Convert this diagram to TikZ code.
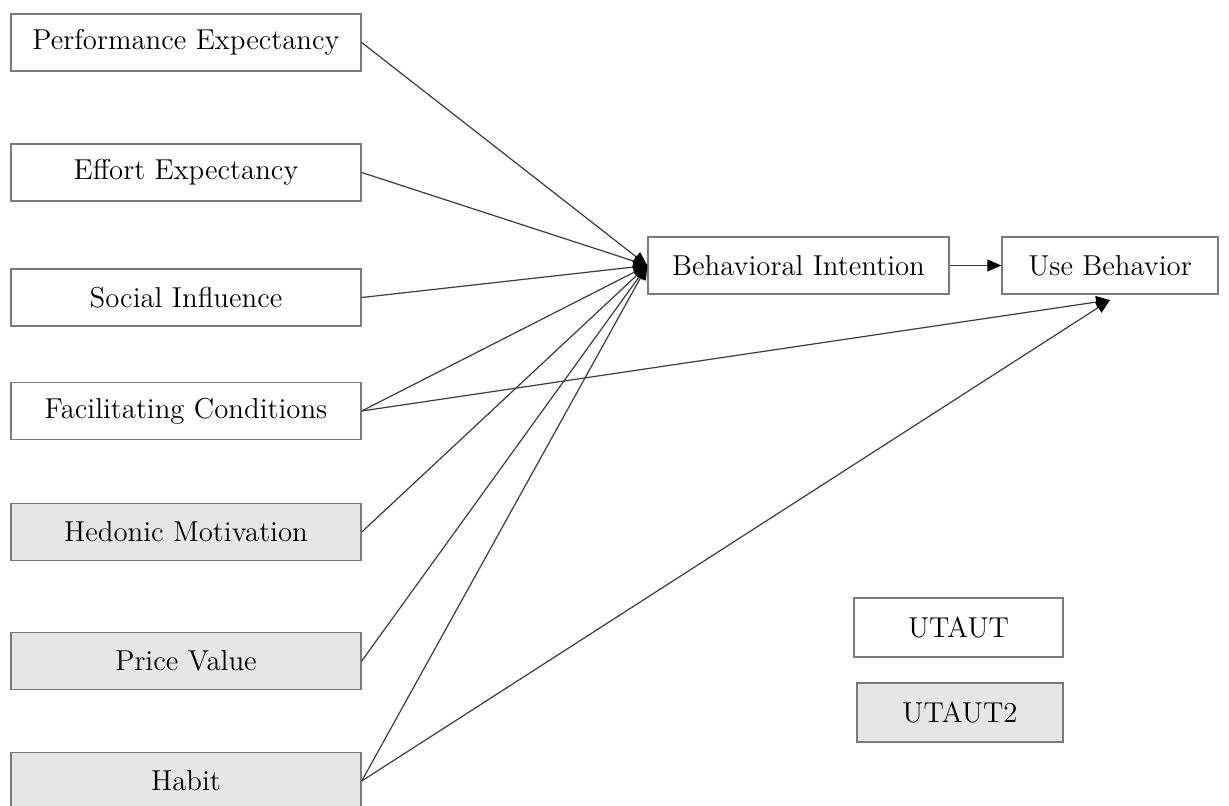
\documentclass[tikz,border=0pt]{standalone}
\usetikzlibrary{arrows.meta}
\definecolor{boxgray}{HTML}{E6E6E6}
\definecolor{edgegray}{HTML}{7A7A7A}
\definecolor{linegray}{HTML}{3C3C3C}
\begin{document}
\begin{tikzpicture}[x=0.5pt,y=-0.5pt,
  box/.style={draw=edgegray, line width=0.7pt, inner sep=0pt,
    minimum height=28.5pt, font=\fontsize{14.4}{17}\selectfont},
  leftbox/.style={box, minimum width=175pt},
  grayfill/.style={fill=boxgray},
  conn/.style={draw=linegray, line width=0.6pt,
    -{Triangle[length=7pt,width=6pt,color=black]}}]
\useasboundingbox (0,0) rectangle (1229,805);
\clip (0,0) rectangle (1229,805);
\fill[white] (0,0) rectangle (1229,805);

\node[leftbox] (PE) at (186,42.5) {Performance Expectancy};
\node[leftbox] (EE) at (186,172.5) {Effort Expectancy};
\node[leftbox] (SI) at (186,297.5) {Social Influence};
\node[leftbox] (FC) at (186,411) {Facilitating Conditions};
\node[leftbox,grayfill] (HM) at (186,532) {Hedonic Motivation};
\node[leftbox,grayfill] (PV) at (186,661) {Price Value};
\node[leftbox,grayfill] (HB) at (186,781) {Habit};

\node[box, minimum width=150.5pt] (BI) at (798.5,265.5) {Behavioral Intention};
\node[box, minimum width=108pt] (UB) at (1110,265.5) {Use Behavior};

\node[box, minimum width=104.5pt, minimum height=29.5pt] (L1) at (958.5,627.5) {UTAUT};
\node[box, grayfill, minimum width=103pt, minimum height=29.5pt] (L2) at (960,712.5) {UTAUT2};

\coordinate (ubin) at (1110,300);

\foreach \s in {PE,EE,SI,FC,HM,PV,HB}
  \draw[conn] (\s.east) -- (BI.west);
\draw[conn] (FC.east) -- (ubin);
\draw[conn] (HB.east) -- (ubin);
\draw[conn] (BI.east) -- (UB.west);
\end{tikzpicture}
\end{document}
